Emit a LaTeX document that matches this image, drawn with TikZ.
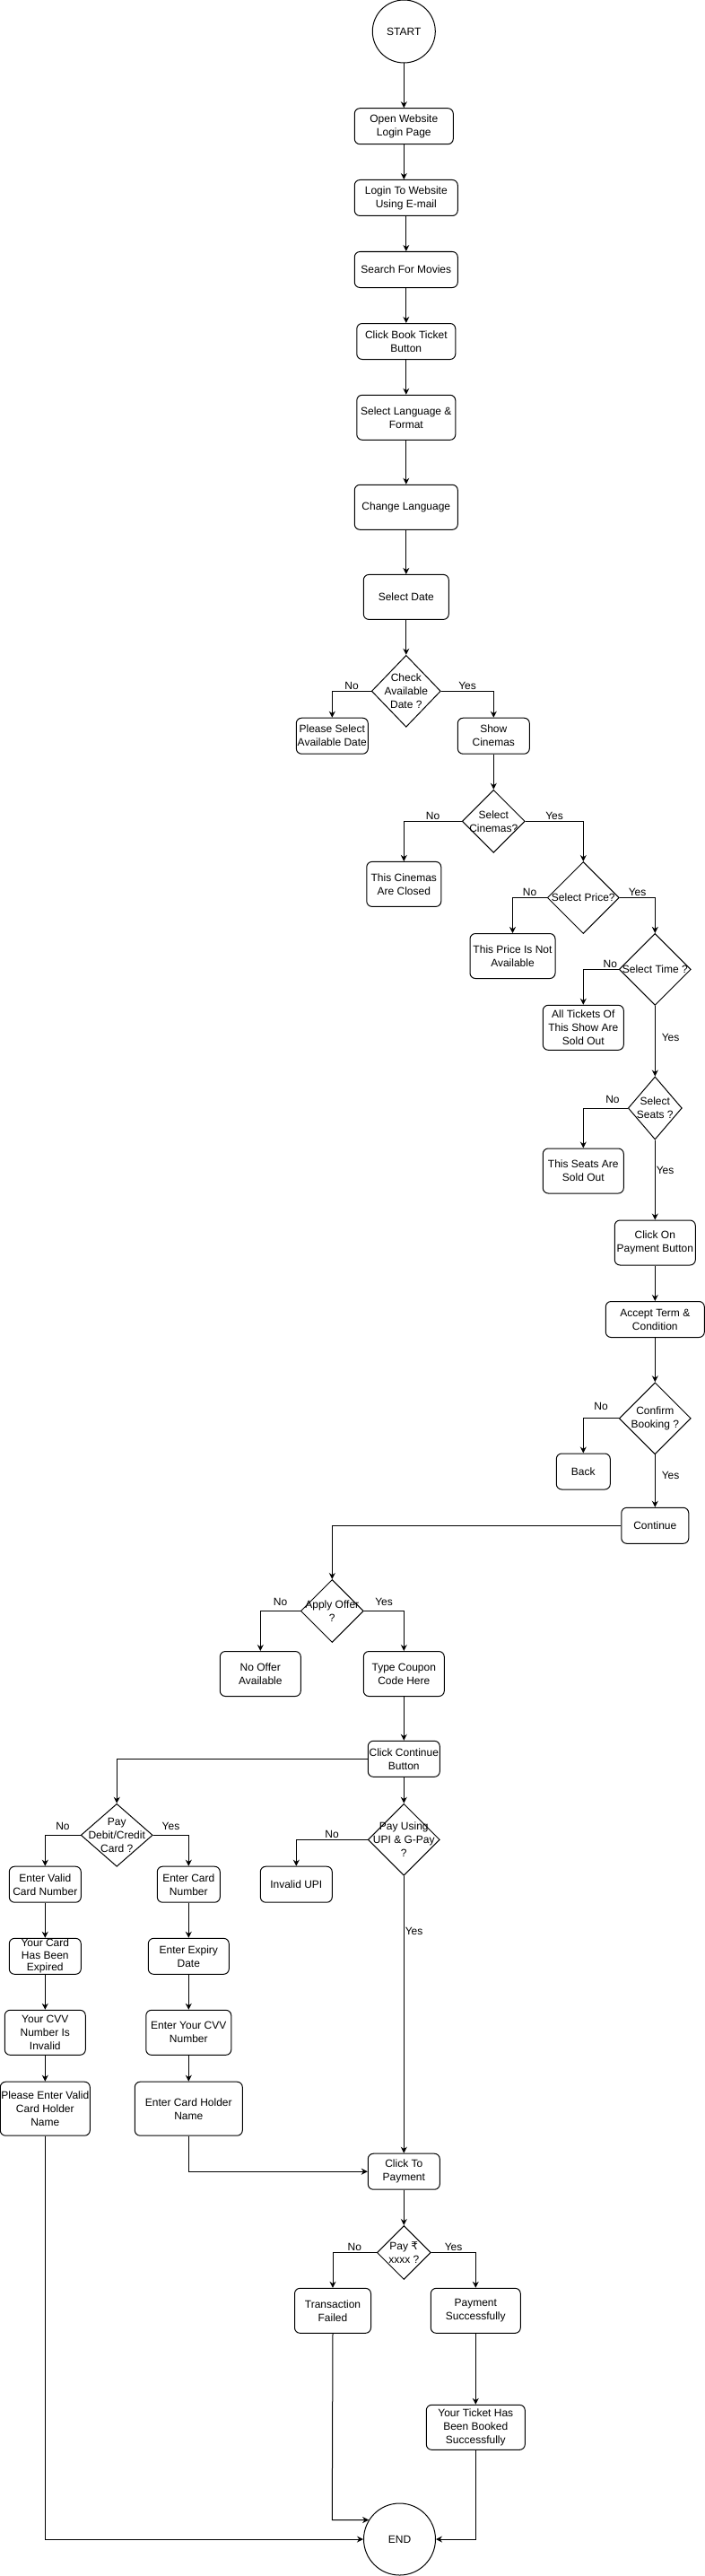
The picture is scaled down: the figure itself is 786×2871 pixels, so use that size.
\documentclass[tikz,border=0pt]{standalone}
\usepackage{fontspec}
\setmainfont{Liberation Sans}
\newfontfamily\rupeefont{DejaVu Sans}
\usetikzlibrary{shapes.geometric,arrows.meta}

\begin{document}
\begin{tikzpicture}[x=1pt,y=1pt,yscale=-1,xscale=1,line width=1pt,
  font=\fontsize{12}{15}\selectfont,
  proc/.style 2 args={draw, rounded corners=6pt, minimum width=#1, minimum height=#2, inner sep=0pt, align=center},
  dec/.style 2 args={draw, diamond, minimum width=#1, minimum height=#2, inner sep=0pt},
  term/.style={draw, circle, minimum size=#1, inner sep=0pt},
  arr/.style={-{Stealth[length=7pt,width=7pt]}},
  lbl/.style={inner sep=1pt}]
\useasboundingbox (0,0) rectangle (786,2871);

%Shape: Circle
\node[term=70pt] (start) at (450.3,35) {START};
%Rounded Rect
\node[proc={110pt}{40pt}] (open) at (450.3,140.7) {Open Website\\Login Page};
\node[proc={115pt}{40pt}] (login) at (452.8,220.5) {Login To Website\\Using E-mail};
\node[proc={115pt}{40pt}] (search) at (452.8,300.5) {Search For Movies};
\node[proc={110pt}{40pt}] (book) at (452.8,380.5) {Click Book Ticket\\Button};
\node[proc={110pt}{50pt}] (lang) at (452.8,465.3) {Select Language \&\\Format};
\node[proc={115pt}{50pt}] (chlang) at (452.8,565.3) {Change Language};
\node[proc={95pt}{50pt}] (date) at (452.8,665.4) {Select Date};
%Shape: Diamond
\node[dec={77pt}{80pt}, label={[align=center]center:{Check\\Available\\Date ?}}] (chkdate) at (452.8,770.3) {};
\node[proc={80pt}{40pt}] (seldate) at (370.3,820.2) {Please Select\\Available Date};
\node[proc={80pt}{40pt}] (cinemas) at (550.3,820.2) {Show\\Cinemas};
\node[dec={70pt}{70pt}, label={[align=center]center:{Select\\Cinemas?}}] (selcin) at (550.3,915.3) {};
\node[proc={83pt}{50pt}] (closed) at (450.3,985.4) {This Cinemas\\Are Closed};
\node[dec={80pt}{80pt}, label={[align=center]center:{Select Price?}}] (selprice) at (650.3,1000.5) {};
\node[proc={95pt}{50pt}] (noprice) at (571.5,1065.5) {This Price Is Not\\Available};
\node[dec={80pt}{80pt}, label={[align=center]center:{Select Time ?}}] (seltime) at (730.3,1080.4) {};
\node[proc={90pt}{50pt}] (soldshow) at (650.3,1145.3) {All Tickets Of\\This Show Are\\Sold Out};
\node[dec={60pt}{70pt}, label={[align=center]center:{Select\\Seats ?}}] (selseat) at (730.3,1235) {};
\node[proc={90pt}{50pt}] (soldseat) at (650.3,1305) {This Seats Are\\Sold Out};
\node[proc={90pt}{50pt}] (paybtn) at (730.3,1385) {Click On\\Payment Button};
\node[proc={110pt}{40pt}] (terms) at (730.3,1470.5) {Accept Term \&\\Condition};
\node[dec={80pt}{80pt}, label={[align=center]center:{Confirm\\Booking ?}}] (confirm) at (730.3,1580.8) {};
\node[proc={60pt}{40pt}] (back) at (650.3,1640) {Back};
\node[proc={75pt}{40pt}] (cont) at (730.3,1700.3) {Continue};
\node[dec={70pt}{70pt}, label={[align=center]center:{Apply Offer\\?}}] (offer) at (370.3,1795.5) {};
\node[proc={90pt}{50pt}] (nooffer) at (290.3,1865.5) {No Offer\\Available};
\node[proc={90pt}{50pt}] (coupon) at (450.3,1865.5) {Type Coupon\\Code Here};
\node[proc={80pt}{40pt}] (ccont) at (450.3,1960.3) {Click Continue\\Button};
\node[dec={80pt}{70pt}, label={[align=center]center:{Pay\\Debit/Credit\\Card ?}}] (card) at (130.2,2045.3) {};
\node[proc={80pt}{40pt}] (validno) at (50.3,2100.2) {Enter Valid\\Card Number};
\node[proc={80pt}{40pt}, font=\fontsize{12}{13.5}\selectfont] (expired) at (50.3,2180.3) {Your Card\\Has Been\\Expired};
\node[proc={90pt}{50pt}] (cvvbad) at (50.3,2265.3) {Your CVV\\Number Is\\Invalid};
\node[proc={100pt}{60pt}] (holderbad) at (50.3,2350.2) {Please Enter Valid\\Card Holder\\Name};
\node[proc={70pt}{40pt}] (cardno) at (210.3,2100.2) {Enter Card\\Number};
\node[proc={90pt}{40pt}] (expiry) at (210.3,2180.3) {Enter Expiry\\Date};
\node[proc={95pt}{50pt}] (cvv) at (210.3,2265.3) {Enter Your CVV\\Number};
\node[proc={120pt}{60pt}] (holder) at (210.3,2350.2) {Enter Card Holder\\Name};
\node[dec={80pt}{80pt}, label={[align=center]center:{Pay Using\\UPI \& G-Pay\\?}}] (upi) at (450.3,2050.3) {};
\node[proc={80pt}{40pt}] (badupi) at (330.3,2100.2) {Invalid UPI};
\node[proc={80pt}{40pt}] (topay) at (450.3,2420.2) {Click To\\Payment};
\node[dec={60pt}{60pt}, label={[align=center]center:{Pay {\rupeefont ₹}\\xxxx ?}}] (amount) at (450.3,2510.5) {};
\node[proc={85pt}{50pt}] (failed) at (371,2575.3) {Transaction\\Failed};
\node[proc={100pt}{50pt}] (success) at (530.3,2575.3) {Payment\\Successfully};
\node[proc={110pt}{50pt}] (booked) at (530.3,2705.3) {Your Ticket Has\\Been Booked\\Successfully};
%Shape: Circle
\node[term=80pt] (end) at (445.5,2830) {END};

%Straight Lines
\draw[arr] (start) -- (open);
\draw[arr] (open.south) -- (open.south |- login.north);
\draw[arr] (login) -- (search);
\draw[arr] (search) -- (book);
\draw[arr] (book) -- (lang);
\draw[arr] (lang) -- (chlang);
\draw[arr] (chlang) -- (date);
\draw[arr] (date) -- (chkdate);
\draw[arr] (chkdate.west) -| node[lbl,pos=0.25,above]{No} (seldate.north);
\draw[arr] (chkdate.east) -| node[lbl,pos=0.25,above]{Yes} (cinemas.north);
\draw[arr] (cinemas) -- (selcin);
\draw[arr] (selcin.west) -| node[lbl,pos=0.25,above]{No} (closed.north);
\draw[arr] (selcin.east) -| node[lbl,pos=0.25,above]{Yes} (selprice.north);
\draw[arr] (selprice.west) -| node[lbl,pos=0.25,above]{No} (noprice.north);
\draw[arr] (selprice.east) -| node[lbl,pos=0.25,above]{Yes} (seltime.north);
\draw[arr] (seltime.west) -| node[lbl,pos=0.12,above]{No} (soldshow.north);
\draw[arr] (seltime) -- node[lbl,pos=0.45,right,xshift=6pt]{Yes} (selseat);
\draw[arr] (selseat.west) -| node[lbl,pos=0.17,above,yshift=4pt]{No} (soldseat.north);
\draw[arr] (selseat) -- node[lbl,pos=0.38,right]{Yes} (paybtn);
\draw[arr] (paybtn) -- (terms);
\draw[arr] (terms) -- (confirm);
\draw[arr] (confirm.west) -| node[lbl,pos=0.25,above,yshift=8pt]{No} (back.north);
\draw[arr] (confirm) -- node[lbl,pos=0.4,right,xshift=6pt]{Yes} (cont);
\draw[arr] (cont.west) -| (offer.north);
\draw[arr] (offer.west) -| node[lbl,pos=0.25,above,yshift=4pt]{No} (nooffer.north);
\draw[arr] (offer.east) -| node[lbl,pos=0.25,above,yshift=4pt]{Yes} (coupon.north);
\draw[arr] (coupon) -- (ccont);
\draw[arr] (ccont.west) -| (card.north);
\draw[arr] (ccont) -- (upi);
\draw[arr] (card.west) -| node[lbl,pos=0.25,above,yshift=4pt]{No} (validno.north);
\draw[arr] (card.east) -| node[lbl,pos=0.25,above,yshift=4pt]{Yes} (cardno.north);
\draw[arr] (validno) -- (expired);
\draw[arr] (expired) -- (cvvbad);
\draw[arr] (cvvbad) -- (holderbad);
\draw[arr] (cardno) -- (expiry);
\draw[arr] (expiry) -- (cvv);
\draw[arr] (cvv) -- (holder);
\draw[arr] (holder.south) |- (topay.west);
\draw[arr] (upi.west) -| node[lbl,pos=0.25,above]{No} (badupi.north);
\draw[arr] (upi) -- node[lbl,pos=0.2,right]{Yes} (topay);
\draw[arr] (topay) -- (amount);
\draw[arr] (amount.west) -| node[lbl,pos=0.25,above]{No} (failed.north);
\draw[arr] (amount.east) -| node[lbl,pos=0.25,above]{Yes} (success.north);
\draw[arr] (success) -- (booked);
\coordinate (failbend) at (370.3,2808.5);
\draw[arr] (failed.south) -- (failbend) -- (end.148);
\draw[arr] (holderbad.south) |- (end.west);
\draw[arr] (booked.south) |- (end.east);

\end{tikzpicture}
\end{document}
